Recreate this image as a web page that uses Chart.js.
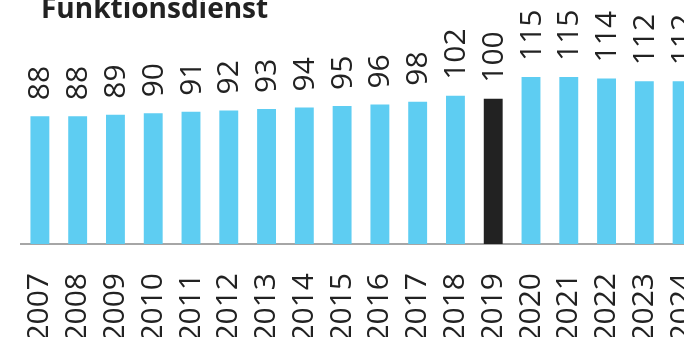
<!DOCTYPE html>
<html>
<head>
<meta charset="utf-8">
<script src="https://cdn.jsdelivr.net/npm/chart.js@4"></script>
<style>
  html, body { margin: 0; padding: 0; background: #fff; overflow: hidden; width: 684px; height: 337px; }
  #wrap { position: relative; width: 684px; height: 337px; overflow: hidden; }
  #title { position: absolute; left: 41px; top: -12px; font: bold 28px "Open Sans", sans-serif; color: #222; white-space: nowrap; }
  #chart { position: absolute; left: 0; top: 0; }
</style>
</head>
<body>
<div id="wrap">
  <canvas id="chart" width="701" height="337"></canvas>
  <div id="title">Funktionsdienst</div>
</div>
<script>
// Daten
const years = ['2007', '2008', '2009', '2010', '2011', '2012', '2013', '2014', '2015', '2016',
  '2017', '2018', '2019', '2020', '2021', '2022', '2023', '2024'];
const index = [88, 88, 89, 90, 91, 92, 93, 94, 95, 96, 98, 102, 100, 115, 115, 114, 112, 112];
const baseYear = '2019';

const barColors = years.map(y => y === baseYear ? '#222222' : '#5ecdf2');

// Werte über den Balken, senkrecht
const valueLabels = {
  id: 'valueLabels',
  afterDatasetsDraw(chart) {
    const ctx = chart.ctx;
    const meta = chart.getDatasetMeta(0);
    ctx.save();
    ctx.font = '30px "Open Sans", sans-serif';
    ctx.fillStyle = '#222';
    ctx.textAlign = 'left';
    ctx.textBaseline = 'middle';
    meta.data.forEach((bar, i) => {
      ctx.save();
      ctx.translate(bar.x + 1, bar.y - 16);
      ctx.rotate(-Math.PI / 2);
      ctx.fillText(String(index[i]), 0, 0);
      ctx.restore();
    });
    ctx.restore();
  }
};

const ctx = document.getElementById('chart').getContext('2d');
new Chart(ctx, {
  type: 'bar',
  data: {
    labels: years,
    datasets: [{
      data: index,
      backgroundColor: barColors,
      borderWidth: 0,
      barPercentage: 0.5,
      categoryPercentage: 1
    }]
  },
  options: {
    responsive: false,
    animation: false,
    layout: { padding: { left: 21, right: 0, top: 0, bottom: 0 } },
    scales: {
      x: {
        grid: { display: false },
        border: { display: true, color: '#a6a6a6', width: 2 },
        ticks: {
          color: '#222',
          font: { family: 'Open Sans', size: 30 },
          minRotation: 90,
          maxRotation: 90,
          padding: 21,
          autoSkip: false
        },
        afterFit(scale) {
          scale.height = 93;
          scale.paddingLeft = 0;
          scale.paddingRight = 0;
        }
      },
      y: {
        display: false,
        min: 0,
        max: 168
      }
    },
    plugins: {
      legend: { display: false },
      tooltip: { enabled: false }
    }
  },
  plugins: [valueLabels]
});
</script>
</body>
</html>
